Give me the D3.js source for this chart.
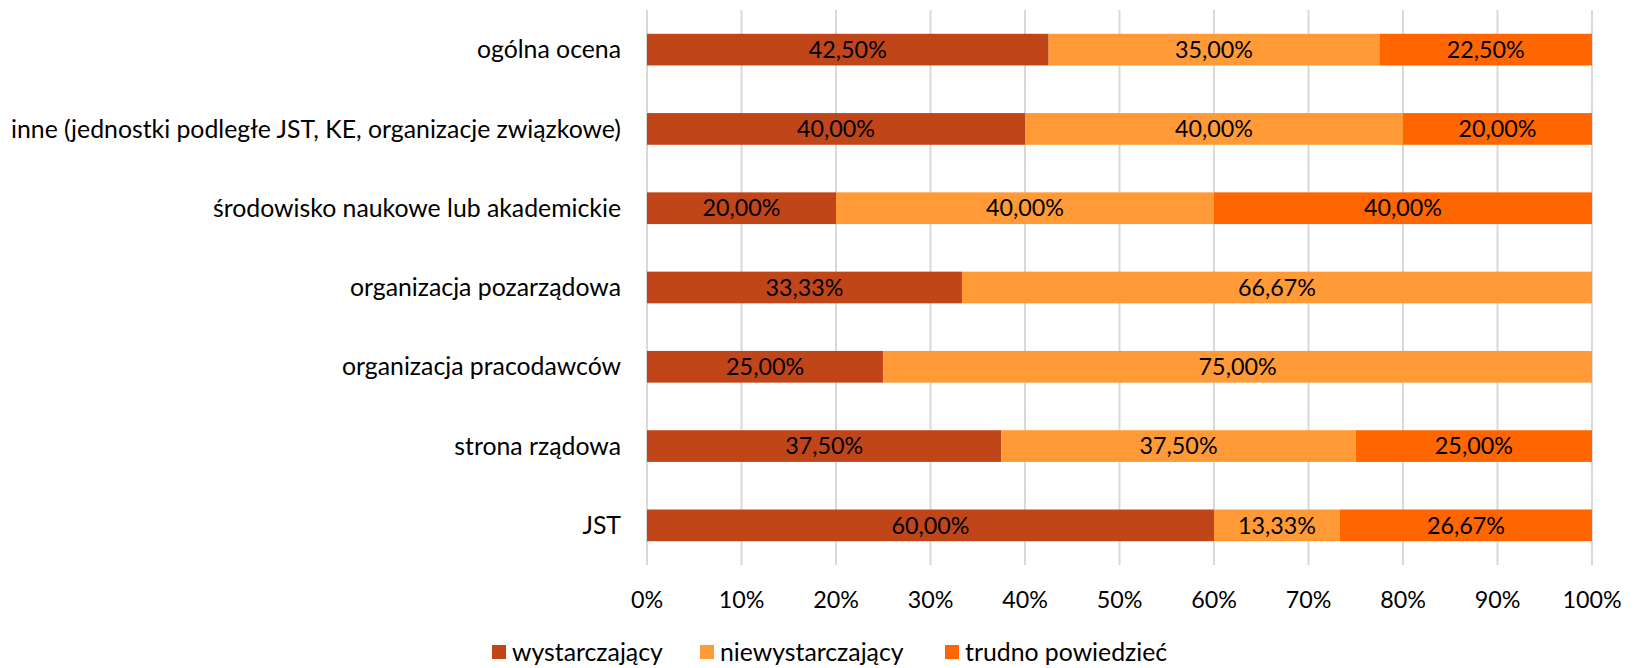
<!DOCTYPE html>
<html lang="pl">
<head>
    <meta charset="UTF-8" />
    <title>Ocena</title>
    <script src="https://d3js.org/d3.v7.min.js"></script>
    <style>
        body { margin: 0; background: #fff; }
        text { font-family: Lato, "Open Sans", sans-serif; fill: #000; }
    </style>
</head>
<body>
<div id="my_chart"></div>
<script>
    // categories, top to bottom
    const categories = [
        "ogólna ocena",
        "inne (jednostki podległe JST, KE, organizacje związkowe)",
        "środowisko naukowe lub akademickie",
        "organizacja pozarządowa",
        "organizacja pracodawców",
        "strona rządowa",
        "JST"
    ];
    const seriesNames = ["wystarczający", "niewystarczający", "trudno powiedzieć"];
    const wystarczajacy    = [42.5, 40, 20, 33.33, 25, 37.5, 60];
    const niewystarczajacy = [35, 40, 40, 66.67, 75, 37.5, 13.33];
    const trudno           = [22.5, 20, 40, 0, 0, 25, 26.67];
    const ticks = [0, 10, 20, 30, 40, 50, 60, 70, 80, 90, 100];
    const colors = ["#c0461a", "#ff9a36", "#ff6600"];

    const W = 1634, H = 668;
    const plotL = 647, plotR = 1592, plotT = 10, plotB = 565;
    const fs = 23.3;     // numbers
    const fsText = 24.8; // words (Lato is narrower than the original for lowercase)

    const svg = d3.select("#my_chart").append("svg")
        .attr("width", W).attr("height", H);

    const x = d3.scaleLinear().domain([0, 100]).range([plotL, plotR]);
    const y = d3.scaleBand().domain(categories).range([plotT, plotB])
        .paddingInner(0.6).paddingOuter(0.3);

    // gridlines
    svg.append("g").selectAll("line").data(ticks).join("line")
        .attr("x1", d => x(d)).attr("x2", d => x(d))
        .attr("y1", plotT).attr("y2", plotB)
        .attr("stroke", "#d9d9d9").attr("stroke-width", 2);

    // stack
    const rows = categories.map((c, i) => ({
        cat: c, s0: wystarczajacy[i], s1: niewystarczajacy[i], s2: trudno[i]
    }));
    const stack = d3.stack().keys(["s0", "s1", "s2"])(rows);

    const loc = d3.formatLocale({ decimal: ",", thousands: " ", grouping: [3], currency: ["", ""] });
    const fmt = loc.format(".2f");

    stack.forEach((layer, k) => {
        const g = svg.append("g");
        const segs = layer.filter(d => d[1] - d[0] > 0);
        g.selectAll("rect").data(segs).join("rect")
            .attr("x", d => x(d[0]))
            .attr("y", d => y(d.data.cat))
            .attr("width", d => x(d[1]) - x(d[0]))
            .attr("height", y.bandwidth())
            .attr("fill", colors[k]);
        g.selectAll("text").data(segs).join("text")
            .attr("x", d => (x(d[0]) + x(d[1])) / 2)
            .attr("y", d => y(d.data.cat) + y.bandwidth() / 2)
            .attr("dy", "0.35em")
            .attr("text-anchor", "middle")
            .style("font-size", fs + "px")
            .text(d => fmt(d[1] - d[0]) + "%");
    });

    // category labels
    svg.append("g").selectAll("text").data(categories).join("text")
        .attr("x", 621)
        .attr("y", d => y(d) + y.bandwidth() / 2)
        .attr("dy", "0.35em")
        .attr("text-anchor", "end")
        .style("font-size", fsText + "px")
        .text(d => d);

    // x axis labels
    svg.append("g").selectAll("text").data(ticks).join("text")
        .attr("x", d => x(d))
        .attr("y", 600)
        .attr("dy", "0.35em")
        .attr("text-anchor", "middle")
        .style("font-size", fs + "px")
        .text(d => d + "%");

    // legend (nudged up a little so descenders stay inside the frame)
    const legX = [492, 700, 945];
    const leg = svg.append("g").selectAll("g").data(seriesNames).join("g")
        .attr("transform", (d, i) => `translate(${legX[i]},645)`);
    leg.append("rect").attr("width", 14).attr("height", 14)
        .attr("fill", (d, i) => colors[i]);
    leg.append("text").attr("x", 20).attr("y", 7).attr("dy", "0.35em")
        .style("font-size", fsText + "px")
        .text(d => d);
</script>
</body>
</html>
